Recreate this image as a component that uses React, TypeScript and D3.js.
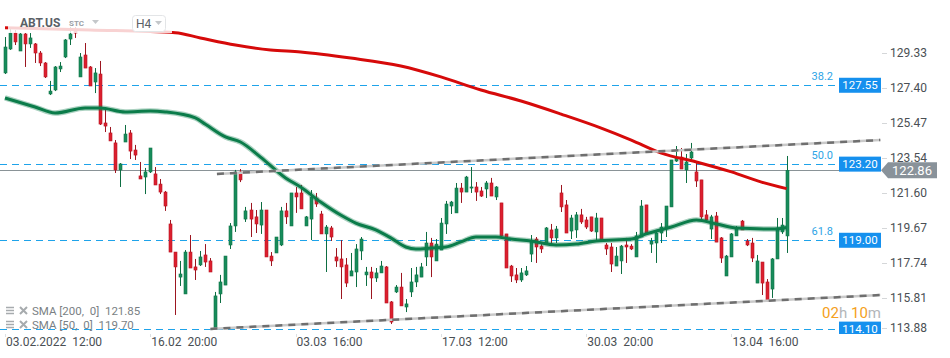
import { useEffect, useRef } from 'react'
import * as d3 from 'd3'

const W = 950
const H = 358

// H4 candles ABT.US, 03.02.2022 12:00 .. 20.04.2022 12:00  [open, high, low, close]
const ohlc: [number, number, number, number][] = [
  [128.23, 130.21, 128.17, 129.66], [129.55, 130.71, 129.50, 130.43], [130.43, 130.60, 129.77, 129.94],
  [129.44, 130.43, 129.44, 130.38], [130.38, 130.43, 128.56, 129.83], [129.83, 130.43, 129.61, 130.16],
  [129.83, 129.88, 128.78, 129.33], [129.33, 129.44, 128.61, 128.78], [128.78, 128.83, 127.95, 128.01],
  [127.07, 127.79, 127.01, 127.23], [127.29, 128.61, 127.23, 128.56], [128.45, 128.83, 128.28, 128.61],
  [129.11, 130.10, 129.05, 130.05], [130.10, 130.76, 129.77, 130.38], [130.60, 130.76, 130.16, 130.43],
  [128.01, 129.33, 128.01, 129.11], [129.22, 129.88, 128.50, 128.50], [128.56, 128.61, 127.51, 127.51],
  [127.73, 128.50, 127.12, 128.23], [128.17, 128.89, 125.36, 125.41], [125.47, 126.30, 124.97, 125.30],
  [124.92, 125.25, 124.48, 124.48], [124.37, 124.53, 122.71, 122.88], [122.88, 123.26, 121.94, 123.21],
  [124.42, 125.36, 124.42, 124.86], [124.92, 125.08, 123.48, 123.92], [123.98, 124.26, 123.43, 123.70],
  [122.55, 123.32, 122.38, 122.38], [122.49, 122.99, 121.55, 122.77], [122.77, 124.09, 122.71, 124.09],
  [122.66, 123.04, 122.05, 122.05], [122.10, 122.38, 121.55, 121.66], [121.66, 121.72, 120.62, 120.89],
  [119.90, 120.12, 118.35, 118.35], [118.35, 118.35, 114.88, 117.53], [116.97, 117.86, 116.48, 117.14],
  [116.04, 118.46, 116.04, 118.35], [118.35, 119.29, 117.47, 117.47], [117.53, 117.97, 116.81, 117.36],
  [117.64, 118.41, 117.58, 118.08], [118.19, 118.79, 117.53, 117.80], [117.86, 118.02, 117.25, 117.25],
  [114.16, 116.15, 114.11, 115.93], [116.04, 117.09, 115.54, 116.70], [116.53, 118.13, 116.53, 118.13],
  [118.74, 119.95, 118.52, 119.79], [119.79, 122.88, 119.46, 122.77], [122.77, 122.93, 122.21, 122.33],
  [120.17, 120.84, 120.01, 120.62], [120.67, 121.06, 119.18, 120.17], [120.29, 120.67, 119.40, 119.90],
  [119.84, 121.11, 119.35, 120.67], [120.67, 120.67, 118.08, 118.08], [118.13, 118.35, 117.58, 117.86],
  [118.30, 119.18, 118.30, 119.18], [118.74, 120.84, 118.68, 120.62], [120.62, 121.06, 119.90, 120.29],
  [119.79, 121.61, 119.79, 121.61], [121.61, 121.94, 120.51, 121.39], [121.61, 122.05, 120.73, 120.73],
  [119.79, 120.34, 119.79, 120.29], [120.17, 121.77, 119.01, 121.39], [121.33, 121.61, 120.84, 121.00],
  [120.45, 120.62, 119.35, 119.35], [119.35, 119.84, 117.25, 119.73], [119.68, 119.79, 118.96, 119.18],
  [118.08, 118.57, 117.53, 117.86], [117.97, 119.01, 115.76, 117.53], [117.64, 118.02, 116.42, 116.64],
  [117.03, 118.30, 117.03, 117.31], [117.25, 118.79, 116.42, 118.52], [118.41, 119.18, 117.91, 119.07],
  [117.09, 117.53, 116.48, 117.25], [117.25, 117.53, 115.76, 116.92], [116.92, 117.47, 116.70, 117.20],
  [117.20, 117.86, 117.20, 117.58], [117.53, 117.58, 115.54, 115.54], [115.60, 115.65, 114.38, 114.49],
  [116.15, 116.53, 116.09, 116.42], [116.42, 117.20, 115.38, 115.38], [115.32, 115.76, 115.04, 115.49],
  [116.15, 117.47, 115.87, 116.70], [116.70, 117.53, 116.42, 117.09], [116.97, 117.75, 116.97, 117.53],
  [118.08, 119.46, 117.58, 118.85], [118.85, 119.13, 116.97, 118.08], [117.86, 119.07, 117.86, 118.79],
  [118.46, 120.23, 118.46, 119.95], [119.90, 121.17, 119.35, 121.00], [120.89, 121.17, 120.45, 121.11],
  [120.51, 122.16, 120.51, 121.88], [121.88, 122.16, 121.06, 121.66], [121.66, 122.55, 121.66, 122.49],
  [121.88, 123.04, 121.61, 121.94], [121.94, 122.21, 121.17, 121.66], [121.72, 121.94, 121.39, 121.44],
  [121.83, 122.27, 121.33, 122.16], [122.16, 122.44, 121.44, 121.44], [121.39, 121.99, 121.22, 121.94],
  [121.06, 121.06, 119.24, 119.24], [119.35, 119.35, 117.47, 117.47], [117.58, 117.64, 116.70, 117.03],
  [117.09, 117.47, 116.64, 116.81], [116.81, 117.47, 116.70, 117.20], [117.09, 117.58, 117.03, 117.31],
  [118.24, 119.29, 117.80, 118.96], [119.07, 119.18, 117.75, 118.63], [118.68, 118.79, 118.30, 118.52],
  [118.85, 119.73, 118.74, 119.68], [119.57, 119.90, 118.85, 119.13], [119.13, 119.79, 118.85, 119.62],
  [121.61, 122.05, 120.56, 120.84], [120.95, 121.22, 119.40, 119.40], [119.51, 120.40, 119.07, 120.23],
  [119.57, 120.56, 119.13, 120.40], [120.40, 120.73, 119.90, 120.01], [120.12, 120.29, 119.62, 119.73],
  [120.29, 120.29, 119.46, 119.51], [119.46, 120.51, 119.01, 120.23], [120.23, 120.23, 119.01, 119.01],
  [118.74, 118.85, 118.19, 118.52], [118.63, 118.85, 117.25, 117.69], [117.58, 118.63, 117.58, 118.13],
  [117.86, 118.74, 117.14, 118.68], [118.74, 119.13, 117.75, 118.63], [118.68, 118.79, 118.46, 118.52],
  [118.08, 119.46, 118.08, 119.24], [119.18, 121.22, 119.18, 120.89], [120.95, 120.95, 119.40, 119.40],
  [118.79, 119.13, 118.30, 118.96], [118.85, 119.57, 117.75, 119.40], [119.40, 119.95, 118.85, 119.73],
  [119.62, 120.89, 119.18, 120.89], [120.84, 123.43, 120.84, 123.43], [123.37, 124.20, 123.32, 123.54],
  [123.59, 124.09, 122.93, 122.93], [122.88, 123.76, 122.16, 123.32], [123.54, 124.37, 123.43, 123.87],
  [122.77, 123.26, 121.94, 122.27], [122.33, 122.33, 120.17, 120.29], [120.40, 120.67, 120.01, 120.12],
  [119.62, 120.40, 119.07, 120.29], [120.34, 120.56, 118.90, 118.90], [119.13, 119.18, 117.75, 118.02],
  [117.03, 118.19, 117.03, 118.13], [118.08, 119.40, 118.08, 119.35], [119.24, 119.79, 119.24, 119.68],
  [120.06, 120.12, 119.57, 119.57], [118.96, 119.07, 118.68, 118.74], [118.85, 119.13, 117.80, 118.02],
  [116.64, 118.19, 116.64, 117.86], [117.80, 117.80, 115.98, 116.64], [116.70, 116.86, 115.60, 115.65],
  [116.31, 118.02, 115.82, 117.97], [117.97, 120.23, 117.97, 119.68], [119.46, 120.23, 119.35, 119.84],
  [119.24, 123.65, 118.30, 122.86],
]

// SMA 200 and SMA 50 as [candle index, value]
const sma200: [number, number][] = [
  [0, 130.72], [17, 130.60], [34, 130.45], [39, 130.16], [46, 129.77], [53, 129.50], [59, 129.39],
  [69, 129.05], [79, 128.61], [87, 128.01], [95, 127.29], [103, 126.68], [111, 125.96], [119, 125.19],
  [125, 124.53], [131, 123.81], [138, 123.32], [145, 122.77], [151, 122.21], [156, 121.85],
]
const sma50: [number, number][] = [
  [0, 126.85], [6, 126.35], [10, 126.02], [16, 126.30], [19, 126.30], [24, 126.08], [29, 126.13],
  [32, 126.08], [38, 125.75], [40, 125.40], [44, 124.70], [47, 124.42], [51, 123.59], [56, 122.44],
  [59, 121.94], [63, 121.11], [67, 120.39], [70, 119.95], [74, 119.57], [77, 119.13], [80, 118.63],
  [82, 118.52], [85, 118.57], [88, 118.63], [91, 118.91], [94, 119.18], [98, 119.18], [101, 119.07],
  [105, 118.96], [110, 118.74], [114, 118.79], [118, 118.96], [125, 119.07], [128, 119.35],
  [133, 119.73], [138, 120.12], [142, 119.90], [146, 119.68], [154, 119.62], [156, 119.70],
]

// channel lines [candle index, price]
const upperTrend: [number, number][] = [[42.3, 122.66], [174.7, 124.53]]
const lowerTrend: [number, number][] = [[41, 114.11], [174.7, 115.98]]

const fibLevels = [
  { value: 127.55, label: '38.2' },
  { value: 123.2, label: '50.0' },
  { value: 119.0, label: '61.8' },
]
const extraLevel = 114.1
const lastPrice = 122.86

const yTicks = [129.33, 127.4, 125.47, 123.54, 121.6, 119.67, 117.74, 115.81, 113.88]
const xTicks = [
  { i: 0, label: '03.02.2022  12:00' },
  { i: 29, label: '16.02  20:00' },
  { i: 58, label: '03.03  16:00' },
  { i: 87, label: '17.03  12:00' },
  { i: 116, label: '30.03  20:00' },
  { i: 145, label: '13.04  16:00' },
]

const FONT = 'Roboto, "Noto Sans", sans-serif'

export default function App() {
  const svgRef = useRef<SVGSVGElement>(null)

  useEffect(() => {
    if (!svgRef.current) return
    const svg = d3.select(svgRef.current)
    svg.selectAll('*').remove()

    const x = d3.scaleLinear().domain([0, 156]).range([5, 786.6])
    const y = d3.scaleLinear().domain([113.88, 129.33]).range([333.1, 53])
    const plotRight = 881
    const plotBottom = 334

    svg.append('rect').attr('width', W).attr('height', H).attr('fill', '#fff')

    svg.append('defs').append('clipPath').attr('id', 'plot')
      .append('rect').attr('x', 0).attr('y', 0).attr('width', plotRight).attr('height', plotBottom)

    const plot = svg.append('g').attr('clip-path', 'url(#plot)')

    // horizontal levels
    const levels = [...fibLevels.map(d => d.value), extraLevel]
    plot.selectAll('.lvl')
      .data(levels)
      .enter().append('line')
      .attr('x1', 0).attr('x2', 839)
      .attr('y1', d => Math.round(y(d)) + 0.5).attr('y2', d => Math.round(y(d)) + 0.5)
      .attr('stroke', '#1ea3ea').attr('stroke-width', 1.2)
      .attr('stroke-dasharray', '7,5')

    // last price line
    plot.append('line')
      .attr('x1', 0).attr('x2', plotRight)
      .attr('y1', Math.round(y(lastPrice)) + 0.5).attr('y2', Math.round(y(lastPrice)) + 0.5)
      .attr('stroke', '#8a9397').attr('stroke-width', 1)

    // candles
    const cg = plot.selectAll('.candle')
      .data(ohlc)
      .enter().append('g')
      .attr('class', 'candle')

    cg.append('line')
      .attr('x1', (d, i) => Math.round(x(i)) + 0.5)
      .attr('x2', (d, i) => Math.round(x(i)) + 0.5)
      .attr('y1', d => y(d[1]))
      .attr('y2', d => y(d[2]))
      .attr('stroke', d => d[3] >= d[0] ? '#0d6e42' : '#9c1620')
      .attr('stroke-width', 1)

    cg.append('rect')
      .attr('x', (d, i) => Math.round(x(i)) - 1)
      .attr('width', 3)
      .attr('y', d => y(Math.max(d[0], d[3])))
      .attr('height', d => Math.max(1, Math.abs(y(d[0]) - y(d[3]))))
      .attr('fill', d => d[3] >= d[0] ? '#178c5b' : '#dc1f2e')
      .attr('stroke', d => d[3] >= d[0] ? '#0f7447' : '#b81522')
      .attr('stroke-width', 0.6)

    // moving averages
    const line = d3.line<[number, number]>()
      .x(d => x(d[0]))
      .y(d => y(d[1]))
      .curve(d3.curveMonotoneX)

    plot.append('path')
      .attr('d', line(sma200))
      .attr('fill', 'none')
      .attr('stroke', '#d60a0a')
      .attr('stroke-width', 3)

    plot.append('path')
      .attr('d', line(sma50))
      .attr('fill', 'none')
      .attr('stroke', '#0b7c4a')
      .attr('stroke-opacity', 0.35)
      .attr('stroke-width', 5.5)

    plot.append('path')
      .attr('d', line(sma50))
      .attr('fill', 'none')
      .attr('stroke', '#0b7c4a')
      .attr('stroke-width', 3)

    // channel
    const straight = d3.line<[number, number]>().x(d => x(d[0])).y(d => y(d[1]))
    ;[upperTrend, lowerTrend].forEach(t => {
      plot.append('path')
        .attr('d', straight(t))
        .attr('stroke', '#c9c9c9').attr('stroke-width', 2.5).attr('fill', 'none')
      plot.append('path')
        .attr('d', straight(t))
        .attr('stroke', '#6f6f6f').attr('stroke-width', 2.5).attr('fill', 'none')
        .attr('stroke-dasharray', '7,6')
    })

    // fib labels and level boxes
    plot.selectAll('.fib')
      .data(fibLevels)
      .enter().append('text')
      .attr('x', 833).attr('y', d => y(d.value) - 5)
      .attr('text-anchor', 'end')
      .style('font-family', FONT).style('font-size', '11px')
      .style('fill', '#2ea4e6')
      .text(d => d.label)

    const boxes = plot.selectAll('.box')
      .data(levels)
      .enter().append('g')
      .attr('transform', d => `translate(839, ${y(d) - 7.5})`)
    boxes.append('rect')
      .attr('width', 42).attr('height', 15)
      .attr('fill', '#1590ee')
    boxes.append('text')
      .attr('x', 21).attr('y', 11.5)
      .attr('text-anchor', 'middle')
      .style('font-family', FONT).style('font-size', '11.5px')
      .style('fill', '#fff')
      .text(d => d.toFixed(2))

    // header overlay
    svg.append('rect')
      .attr('x', 8).attr('y', 0).attr('width', 164).attr('height', 33)
      .attr('fill', '#fff').attr('opacity', 0.82)
    svg.append('text')
      .attr('x', 20).attr('y', 27)
      .style('font-family', FONT).style('font-size', '12px').style('font-weight', 'bold')
      .style('fill', '#5a6066')
      .text('ABT.US')
    svg.append('text')
      .attr('x', 69).attr('y', 26)
      .style('font-family', FONT).style('font-size', '8px').style('font-weight', 'bold')
      .style('fill', '#9aa0a6')
      .text('STC')
    svg.append('path').attr('d', 'M92,20 L99,20 L95.5,24 Z').attr('fill', '#c4c7ca')
    svg.append('rect')
      .attr('x', 132.5).attr('y', 15.5).attr('width', 33).attr('height', 16).attr('rx', 3)
      .attr('fill', '#fff').attr('stroke', '#e3e5e7')
    svg.append('text')
      .attr('x', 136).attr('y', 28)
      .style('font-family', FONT).style('font-size', '12px')
      .style('fill', '#5a6066')
      .text('H4')
    svg.append('path').attr('d', 'M155,21 L162,21 L158.5,25 Z').attr('fill', '#c4c7ca')

    // legend
    const legendItems = ['SMA [200,  0]  121.85', 'SMA [50,  0]  119.70']
    legendItems.forEach((t, k) => {
      const ly = 311 + k * 14
      const lg = svg.append('g').attr('transform', `translate(0, ${ly})`)
      ;[-3, 0, 3].forEach(o => {
        lg.append('line').attr('x1', 6).attr('x2', 14).attr('y1', o - 0.5).attr('y2', o - 0.5)
          .attr('stroke', '#a7abae').attr('stroke-width', 1.5)
      })
      lg.append('path').attr('d', 'M20,-4 L27,3 M27,-4 L20,3')
        .attr('stroke', '#a7abae').attr('stroke-width', 2)
      lg.append('text')
        .attr('x', 32).attr('y', 4)
        .style('font-family', FONT).style('font-size', '11.5px')
        .style('white-space', 'pre')
        .style('fill', '#7a7f84')
        .text(t)
    })

    // countdown
    const cd = svg.append('text')
      .attr('x', 881).attr('y', 318)
      .attr('text-anchor', 'end')
      .style('font-family', FONT).style('font-size', '15px')
    cd.append('tspan').style('fill', '#f5a020').text('02')
    cd.append('tspan').style('fill', '#b3b6b9').text('h ')
    cd.append('tspan').style('fill', '#f5a020').text('10')
    cd.append('tspan').style('fill', '#b3b6b9').text('m')

    // y axis
    const yAxis = svg.append('g')
    yTicks.forEach(t => {
      const ty = Math.min(y(t), 328)
      yAxis.append('line')
        .attr('x1', 882).attr('x2', 887)
        .attr('y1', Math.round(ty) + 0.5).attr('y2', Math.round(ty) + 0.5)
        .attr('stroke', '#d5d7d9')
      yAxis.append('text')
        .attr('x', 890).attr('y', ty)
        .attr('dy', '0.36em')
        .style('font-family', FONT).style('font-size', '12px')
        .style('fill', '#4a4f54')
        .text(t.toFixed(2))
    })

    // last price tag
    const ly = y(lastPrice)
    svg.append('path')
      .attr('d', `M881,${ly} L888,${ly - 8} L937,${ly - 8} L937,${ly + 8} L888,${ly + 8} Z`)
      .attr('fill', '#89929a')
    svg.append('text')
      .attr('x', 912).attr('y', ly).attr('dy', '0.36em')
      .attr('text-anchor', 'middle')
      .style('font-family', FONT).style('font-size', '13px')
      .style('fill', '#fff')
      .text(lastPrice.toFixed(2))

    // x axis
    const xAxis = svg.append('g')
    xTicks.forEach(t => {
      const tx = Math.round(x(t.i)) + 0.5
      xAxis.append('line')
        .attr('x1', tx).attr('x2', tx).attr('y1', 334).attr('y2', 337)
        .attr('stroke', '#dde0e2')
      xAxis.append('text')
        .attr('x', x(t.i) + 1).attr('y', 345.5)
        .style('font-family', FONT).style('font-size', '12px')
        .style('white-space', 'pre')
        .style('fill', '#4a4f54')
        .text(t.label)
    })
  }, [])

  return (
    <div style={{ position: 'absolute', left: 0, top: 0, width: W, height: H }}>
      <svg ref={svgRef} width={W} height={H} style={{ display: 'block' }} />
    </div>
  )
}
